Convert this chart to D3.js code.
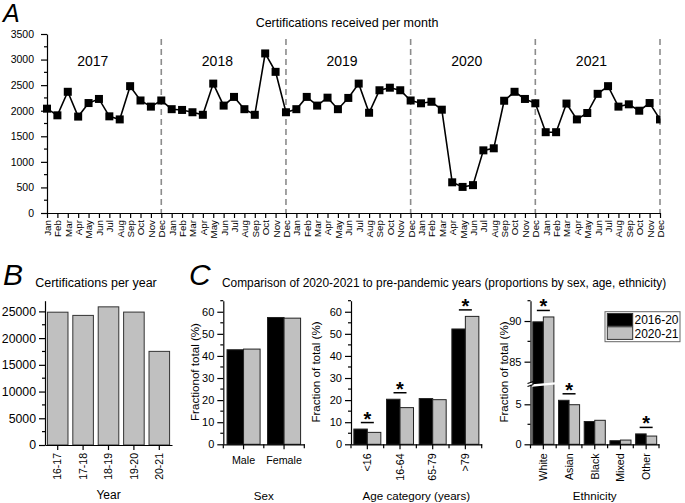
<!DOCTYPE html>
<html><head><meta charset="utf-8">
<script src="https://cdn.jsdelivr.net/npm/d3@7"></script>
<style>body{margin:0;background:#fff} svg{display:block} text{font-family:"Liberation Sans",Arial,sans-serif}</style>
</head><body><svg id="c" width="685" height="503"></svg>
<script>
// ---------- DATA ----------
const monthNames = ["Jan","Feb","Mar","Apr","May","Jun","Jul","Aug","Sep","Oct","Nov","Dec"];
const yearNames = ["2017","2018","2019","2020","2021"];
const cert2017 = [2040,1910,2370,1885,2150,2230,1890,1830,2480,2200,2080,2200];
const cert2018 = [2030,2015,1970,1920,2530,2100,2270,2030,1920,3120,2760,1970];
const cert2019 = [2030,2270,2100,2255,2030,2250,2530,1960,2400,2450,2400,2200];
const cert2020 = [2145,2175,2020,600,510,545,1225,1265,2195,2370,2230,2145];
const cert2021 = [1580,1580,2140,1830,1955,2330,2480,2080,2125,2000,2150,1830];
const certTicksA = [0,500,1000,1500,2000,2500,3000,3500];

const yearLabels = ["16-17","17-18","18-19","19-20","20-21"];
const yearTotals = [24850,24250,25850,24870,17520];
const yearTicks = [0,5000,10000,15000,20000,25000];

const seriesNames = ["2016-20","2020-21"];
const sexCats = ["Male","Female"];
const sexPre = [42.8,57.4];
const sexPost = [43.1,57.1];
const sexSig = [false,false];
const ageCats = ["<16","16-64","65-79",">79"];
const agePre = [6.9,20.4,20.7,52.2];
const agePost = [5.4,16.6,20.2,57.9];
const ageSig = [true,true,false,true];
const ethCats = ["White","Asian","Black","Mixed","Other"];
const ethPre = [89.9,5.5,2.85,0.45,1.3];
const ethPost = [90.5,4.95,3.0,0.53,1.03];
const ethSig = [true,true,false,false,true];
const pctTicks = [0,10,20,30,40,50,60];

// ---------- HELPERS ----------
const svg = d3.select("#c");
const FONT = '"Liberation Sans", Arial, sans-serif';
const seriesFill = ["#000000","#c0c0c0"];
const fmt = d3.format("d");
function styleAxis(g, fs){
  g.attr("font-family", FONT).attr("font-size", fs);
  g.selectAll("path,line").attr("stroke","#000").attr("stroke-width",1.2);
  g.selectAll("text").attr("fill","#000");
  return g;
}
function minorTicks(g, scale, vals, len, vertical){
  g.selectAll(null).data(vals).join("line")
    .attr("x1", d=> vertical ? 0 : scale(d)).attr("x2", d=> vertical ? -len : scale(d))
    .attr("y1", d=> vertical ? scale(d) : 0).attr("y2", d=> vertical ? scale(d) : 0)
    .attr("stroke","#000").attr("stroke-width",1.2);
}
function rotLabels(g, off){
  g.selectAll(".tick text").attr("transform","rotate(-90)").attr("x",-off).attr("y",0)
   .attr("dy","0.35em").attr("text-anchor","end");
}
function txt(x,y,s,fs,opts={}){
  const t = svg.append("text").attr("x",x).attr("y",y).text(s).attr("font-size",fs)
    .attr("font-family",FONT).attr("fill","#000").attr("text-anchor",opts.anchor||"start");
  if(opts.italic) t.attr("font-style","italic");
  if(opts.rotate) t.attr("transform",`rotate(-90,${x},${y})`);
  if(opts.bold) t.attr("font-weight","bold");
  return t;
}

// ---------- PANEL A ----------
const certMonthly = [].concat(cert2017,cert2018,cert2019,cert2020,cert2021);
const xA = d3.scaleLinear().domain([0,59]).range([47,660]);
const yA = d3.scaleLinear().domain([0,3500]).range([213,34]);

svg.append("g").selectAll("line").data(yearNames).join("line")
  .attr("x1",(d,i)=>xA(i*12+11)).attr("x2",(d,i)=>xA(i*12+11))
  .attr("y1",39).attr("y2",213)
  .attr("stroke","#8c8c8c").attr("stroke-width",1.6).attr("stroke-dasharray","6,4");

const gyA = svg.append("g").attr("transform","translate(47,0)")
  .call(d3.axisLeft(yA).tickValues(certTicksA).tickFormat(fmt).tickSize(6).tickPadding(7).tickSizeOuter(0));
styleAxis(gyA, 10.5);
minorTicks(gyA, yA, d3.range(250,3500,500), 3, true);

const gxA = svg.append("g").attr("transform","translate(0,213)")
  .call(d3.axisBottom(xA).tickValues(d3.range(60)).tickFormat(i=>monthNames[i%12]).tickSize(5).tickSizeOuter(0));
styleAxis(gxA, 9.8);
rotLabels(gxA, 7);

svg.append("clipPath").attr("id","clipA").append("rect").attr("x",20).attr("y",20).attr("width",640.5).attr("height",200);
const gA = svg.append("g").attr("clip-path","url(#clipA)");
gA.append("path").datum(certMonthly)
  .attr("d", d3.line().x((d,i)=>xA(i)).y(d=>yA(d)))
  .attr("fill","none").attr("stroke","#000").attr("stroke-width",1.6);
gA.selectAll("rect.m").data(certMonthly).join("rect").attr("class","m")
  .attr("x",(d,i)=>xA(i)-4).attr("y",d=>yA(d)-4).attr("width",8).attr("height",8).attr("fill","#000");

yearNames.forEach((y,i)=> txt(xA(i*12+4.4), 66, y, 14, {anchor:"middle"}));
txt(347, 27, "Certifications received per month", 12.5, {anchor:"middle"});
txt(3, 22, "A", 25, {italic:true});

// ---------- PANEL B ----------
const xB = d3.scaleBand().domain(yearLabels).range([45,172]).paddingInner(0.19).paddingOuter(0.095);
const yB = d3.scaleLinear().domain([0,27000]).range([445,300.7]);
svg.append("g").selectAll("rect").data(yearTotals).join("rect")
  .attr("x",(d,i)=>xB(yearLabels[i])).attr("width",xB.bandwidth())
  .attr("y",d=>yB(d)).attr("height",d=>yB(0)-yB(d))
  .attr("fill","#c0c0c0").attr("stroke","#333").attr("stroke-width",1);
const gyB = svg.append("g").attr("transform","translate(45,0)")
  .call(d3.axisLeft(yB).tickValues(yearTicks).tickFormat(fmt).tickSize(6).tickPadding(3).tickSizeOuter(0));
styleAxis(gyB, 12.3);
minorTicks(gyB, yB, d3.range(2500,27000,5000), 3, true);
const gxB = svg.append("g").attr("transform","translate(0,445)")
  .call(d3.axisBottom(xB).tickSize(5).tickSizeOuter(0));
styleAxis(gxB, 10.5);
rotLabels(gxB, 8);
txt(108.5, 499, "Year", 12, {anchor:"middle"});
txt(96, 287, "Certifications per year", 12.5, {anchor:"middle"});
txt(3, 285, "B", 30, {italic:true});

// ---------- PANEL C ----------
txt(189, 285, "C", 30, {italic:true});
txt(222, 287, "Comparison of 2020-2021 to pre-pandemic years (proportions by sex, age, ethnicity)", 11.9);

const yBase = 444.3;
const yPct = d3.scaleLinear().domain([0,65]).range([yBase,300.7]);

function groupedPanel(o){
  const x0 = d3.scaleBand().domain(o.cats).range(o.xr).paddingInner(o.pi).paddingOuter(o.pi/2);
  const x1 = d3.scaleBand().domain(seriesNames).range([0,x0.bandwidth()]);
  const g = svg.append("g");
  o.cats.forEach((c,i)=>{
    [o.pre[i],o.post[i]].forEach((v,s)=>{
      g.append("rect").attr("x",x0(c)+x1(seriesNames[s])).attr("width",x1.bandwidth())
        .attr("y",o.y(v)).attr("height",yBase-o.y(v))
        .attr("fill",seriesFill[s]).attr("stroke","#222").attr("stroke-width",1);
    });
    if(o.sig[i]){
      const cx = x0(c)+x0.bandwidth()/2;
      const ly = Math.min(o.y(o.pre[i]),o.y(o.post[i])) - 6.5;
      g.append("line").attr("x1",cx-6.5).attr("x2",cx+6.5).attr("y1",ly).attr("y2",ly)
        .attr("stroke","#000").attr("stroke-width",1.5);
      g.append("text").attr("x",cx).attr("y",ly+3).attr("text-anchor","middle")
        .attr("font-size",20).attr("font-weight","bold").attr("font-family",FONT).text("*");
    }
  });
  if(o.afterBars) o.afterBars(x0);
  const gx = svg.append("g").attr("transform",`translate(0,${yBase})`)
    .call(d3.axisBottom(x0).tickSize(5).tickSizeOuter(0));
  styleAxis(gx, 10.7);
  const bounds = [o.xr[0]].concat(o.cats.slice(1).map(c=>x0(c)-x0.step()*o.pi/2)).concat([o.xr[1]]);
  gx.selectAll(null).data(bounds).join("line").attr("x1",d=>d).attr("x2",d=>d).attr("y1",0).attr("y2",4)
    .attr("stroke","#000").attr("stroke-width",1.2);
  if(o.rotate) rotLabels(gx, 9);
  else gx.selectAll(".tick text").attr("y",12).attr("dy","0.71em");
  txt((o.xr[0]+o.xr[1])/2, 500, o.title, 11.6, {anchor:"middle"});
  txt(o.ylx, 372, o.ylabel, 11.6, {anchor:"middle", rotate:true});
  return x0;
}

function pctAxis(x){
  const gy = svg.append("g").attr("transform",`translate(${x},0)`)
    .call(d3.axisLeft(yPct).tickValues(pctTicks).tickFormat(fmt).tickSize(6).tickPadding(3).tickSizeOuter(0));
  styleAxis(gy, 11);
  minorTicks(gy, yPct, d3.range(5,70,10), 3, true);
}

groupedPanel({cats:sexCats, pre:sexPre, post:sexPost, sig:sexSig, xr:[223.3,304.3], pi:0.183,
  y:yPct, rotate:false, title:"Sex", ylabel:"Fractionof total (%)", ylx:199});
pctAxis(223.3);

groupedPanel({cats:ageCats, pre:agePre, post:agePost, sig:ageSig, xr:[351,481.7], pi:0.174,
  y:yPct, rotate:true, title:"Age category (years)", ylabel:"Fraction of total (%)", ylx:320});
pctAxis(351);

// ethnicity with broken axis
const yEthLow = d3.scaleLinear().domain([0,7.5]).range([yBase,384.3]);
const yEthUp = d3.scaleLinear().domain([82.5,92.5]).range([382,300.7]);
const yEth = v => v > 50 ? yEthUp(v) : yEthLow(v);
const ethX0 = 530.5;
groupedPanel({cats:ethCats, pre:ethPre, post:ethPost, sig:ethSig, xr:[ethX0,659], pi:0.18,
  y:yEth, rotate:true, title:"Ethnicity", ylabel:"Fraction of total (%)", ylx:508,
  afterBars:(x0)=>{
    const xe = x0("White")+x0.bandwidth()+1.5;
    svg.append("polygon")
      .attr("points",`${ethX0-1},384.6 ${xe},382.2 ${xe},384.6 ${ethX0-1},387`)
      .attr("fill","#fff");
  }});
const gyLow = svg.append("g").attr("transform",`translate(${ethX0},0)`)
  .call(d3.axisLeft(yEthLow).tickValues([0,5]).tickFormat(fmt).tickSize(6).tickPadding(3).tickSizeOuter(0));
styleAxis(gyLow, 11);
minorTicks(gyLow, yEthLow, [2.5], 3, true);
const gyUp = svg.append("g").attr("transform",`translate(${ethX0},0)`)
  .call(d3.axisLeft(yEthUp).tickValues([85,90]).tickFormat(fmt).tickSize(6).tickPadding(3).tickSizeOuter(0));
styleAxis(gyUp, 11);
minorTicks(gyUp, yEthUp, [87.5,92.5], 3, true);
[382.5,385.5].forEach(yy=>{
  svg.append("line").attr("x1",ethX0-3).attr("x2",ethX0+3).attr("y1",yy+1).attr("y2",yy-1)
    .attr("stroke","#000").attr("stroke-width",1.1);
});

// legend
const lg = svg.append("g");
lg.append("rect").attr("x",605).attr("y",311.7).attr("width",75).attr("height",30)
  .attr("fill","#fff").attr("stroke","#666").attr("stroke-width",1);
seriesNames.forEach((s,i)=>{
  lg.append("rect").attr("x",607.3).attr("y",313.5+i*13.3).attr("width",25.4).attr("height",12.6)
    .attr("fill",seriesFill[i]).attr("stroke","#333").attr("stroke-width",1);
  lg.append("text").attr("x",634.5).attr("y",320+i*13.3).attr("dy","0.35em").attr("font-size",12)
    .attr("font-family",FONT).text(s);
});
</script></body></html>
